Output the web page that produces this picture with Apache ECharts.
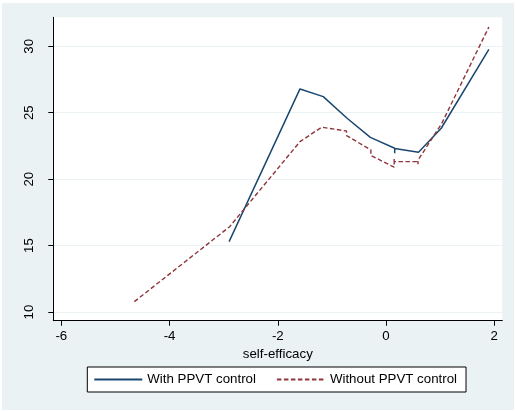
<!DOCTYPE html>
<html>
<head>
<meta charset="utf-8">
<script src="https://cdn.jsdelivr.net/npm/echarts@6/dist/echarts.min.js"></script>
<style>
  html, body { margin: 0; padding: 0; background: #fff; }
  #chart { position: absolute; left: 2px; top: 3px; width: 512px; height: 407px; }
</style>
</head>
<body>
<div id="chart"></div>
<script>
// values
var withX = [-2.90, -1.59, -1.16, -0.72, -0.29, 0.16, 0.16, 0.16, 0.60, 1.02, 1.90];
var withY = [15.30, 26.79, 26.21, 24.58, 23.14, 22.32, 21.95, 22.30, 22.02, 23.83, 29.76];
var withoutX = [-4.65, -2.89, -1.59, -1.19, -0.73, -0.73, -0.28, -0.28, 0.15, 0.15, 0.15, 0.59, 0.59, 0.59, 1.03, 1.90];
var withoutY = [10.78, 16.42, 22.82, 23.91, 23.62, 23.28, 22.20, 21.78, 20.90, 21.58, 21.32, 21.32, 21.12, 21.42, 24.20, 31.45];
var xTicks = [-6, -4, -2, 0, 2];
var yTicks = [10, 15, 20, 25, 30];
var seriesNames = ['With PPVT control', 'Without PPVT control'];

function pairs(xs, ys) {
  return xs.map(function (x, i) { return [x, ys[i]]; });
}

var font = '"Liberation Sans", Arial, sans-serif';
var fs = 13.3;
var chart = echarts.init(document.getElementById('chart'));

var option = {
  animation: false,
  backgroundColor: '#eaf2f3',
  textStyle: { fontFamily: font },
  grid: {
    left: 51.3,
    top: 14.3,
    right: 11.7,
    bottom: 89.3,
    show: true,
    backgroundColor: '#fff',
    borderWidth: 0
  },
  xAxis: {
    type: 'value',
    min: -6.148,
    max: 2.148,
    name: 'self-efficacy',
    nameLocation: 'middle',
    nameGap: 22,
    nameTextStyle: { color: '#000', fontSize: fs, fontFamily: font },
    axisLine: { show: true, onZero: false, lineStyle: { color: '#000', width: 1 } },
    axisTick: { show: true, length: 5, customValues: xTicks, lineStyle: { color: '#000' } },
    axisLabel: { customValues: xTicks, color: '#000', fontSize: fs, margin: 9, fontFamily: font },
    splitLine: { show: false }
  },
  yAxis: {
    type: 'value',
    min: 9.345,
    max: 32.18,
    axisLine: { show: true, onZero: false, lineStyle: { color: '#000', width: 1 } },
    axisTick: { show: true, length: 5, customValues: yTicks, lineStyle: { color: '#000' } },
    axisLabel: { customValues: yTicks, rotate: 90, color: '#000', fontSize: fs, margin: 17, fontFamily: font },
    splitLine: { show: true, lineStyle: { color: '#eaf2f3', width: 1 } }
  },
  legend: {
    data: seriesNames,
    left: 85.3,
    top: 364,
    orient: 'horizontal',
    itemWidth: 48,
    itemHeight: 14,
    itemGap: 20,
    padding: [6, 9, 6, 6],
    borderColor: '#000',
    borderWidth: 1,
    borderRadius: 0,
    backgroundColor: '#fff',
    itemStyle: { opacity: 0 },
    textStyle: { color: '#000', fontSize: fs, fontFamily: font }
  },
  series: [
    {
      name: seriesNames[0],
      type: 'line',
      symbol: 'none',
      data: pairs(withX, withY),
      lineStyle: { color: '#1a476f', width: 1.5 },
      itemStyle: { color: '#1a476f' }
    },
    {
      name: seriesNames[1],
      type: 'line',
      symbol: 'none',
      data: pairs(withoutX, withoutY),
      lineStyle: { color: '#90353b', width: 1.4, type: [4.5, 2.5] },
      itemStyle: { color: '#90353b' }
    }
  ]
};

chart.setOption(option);
</script>
</body>
</html>
